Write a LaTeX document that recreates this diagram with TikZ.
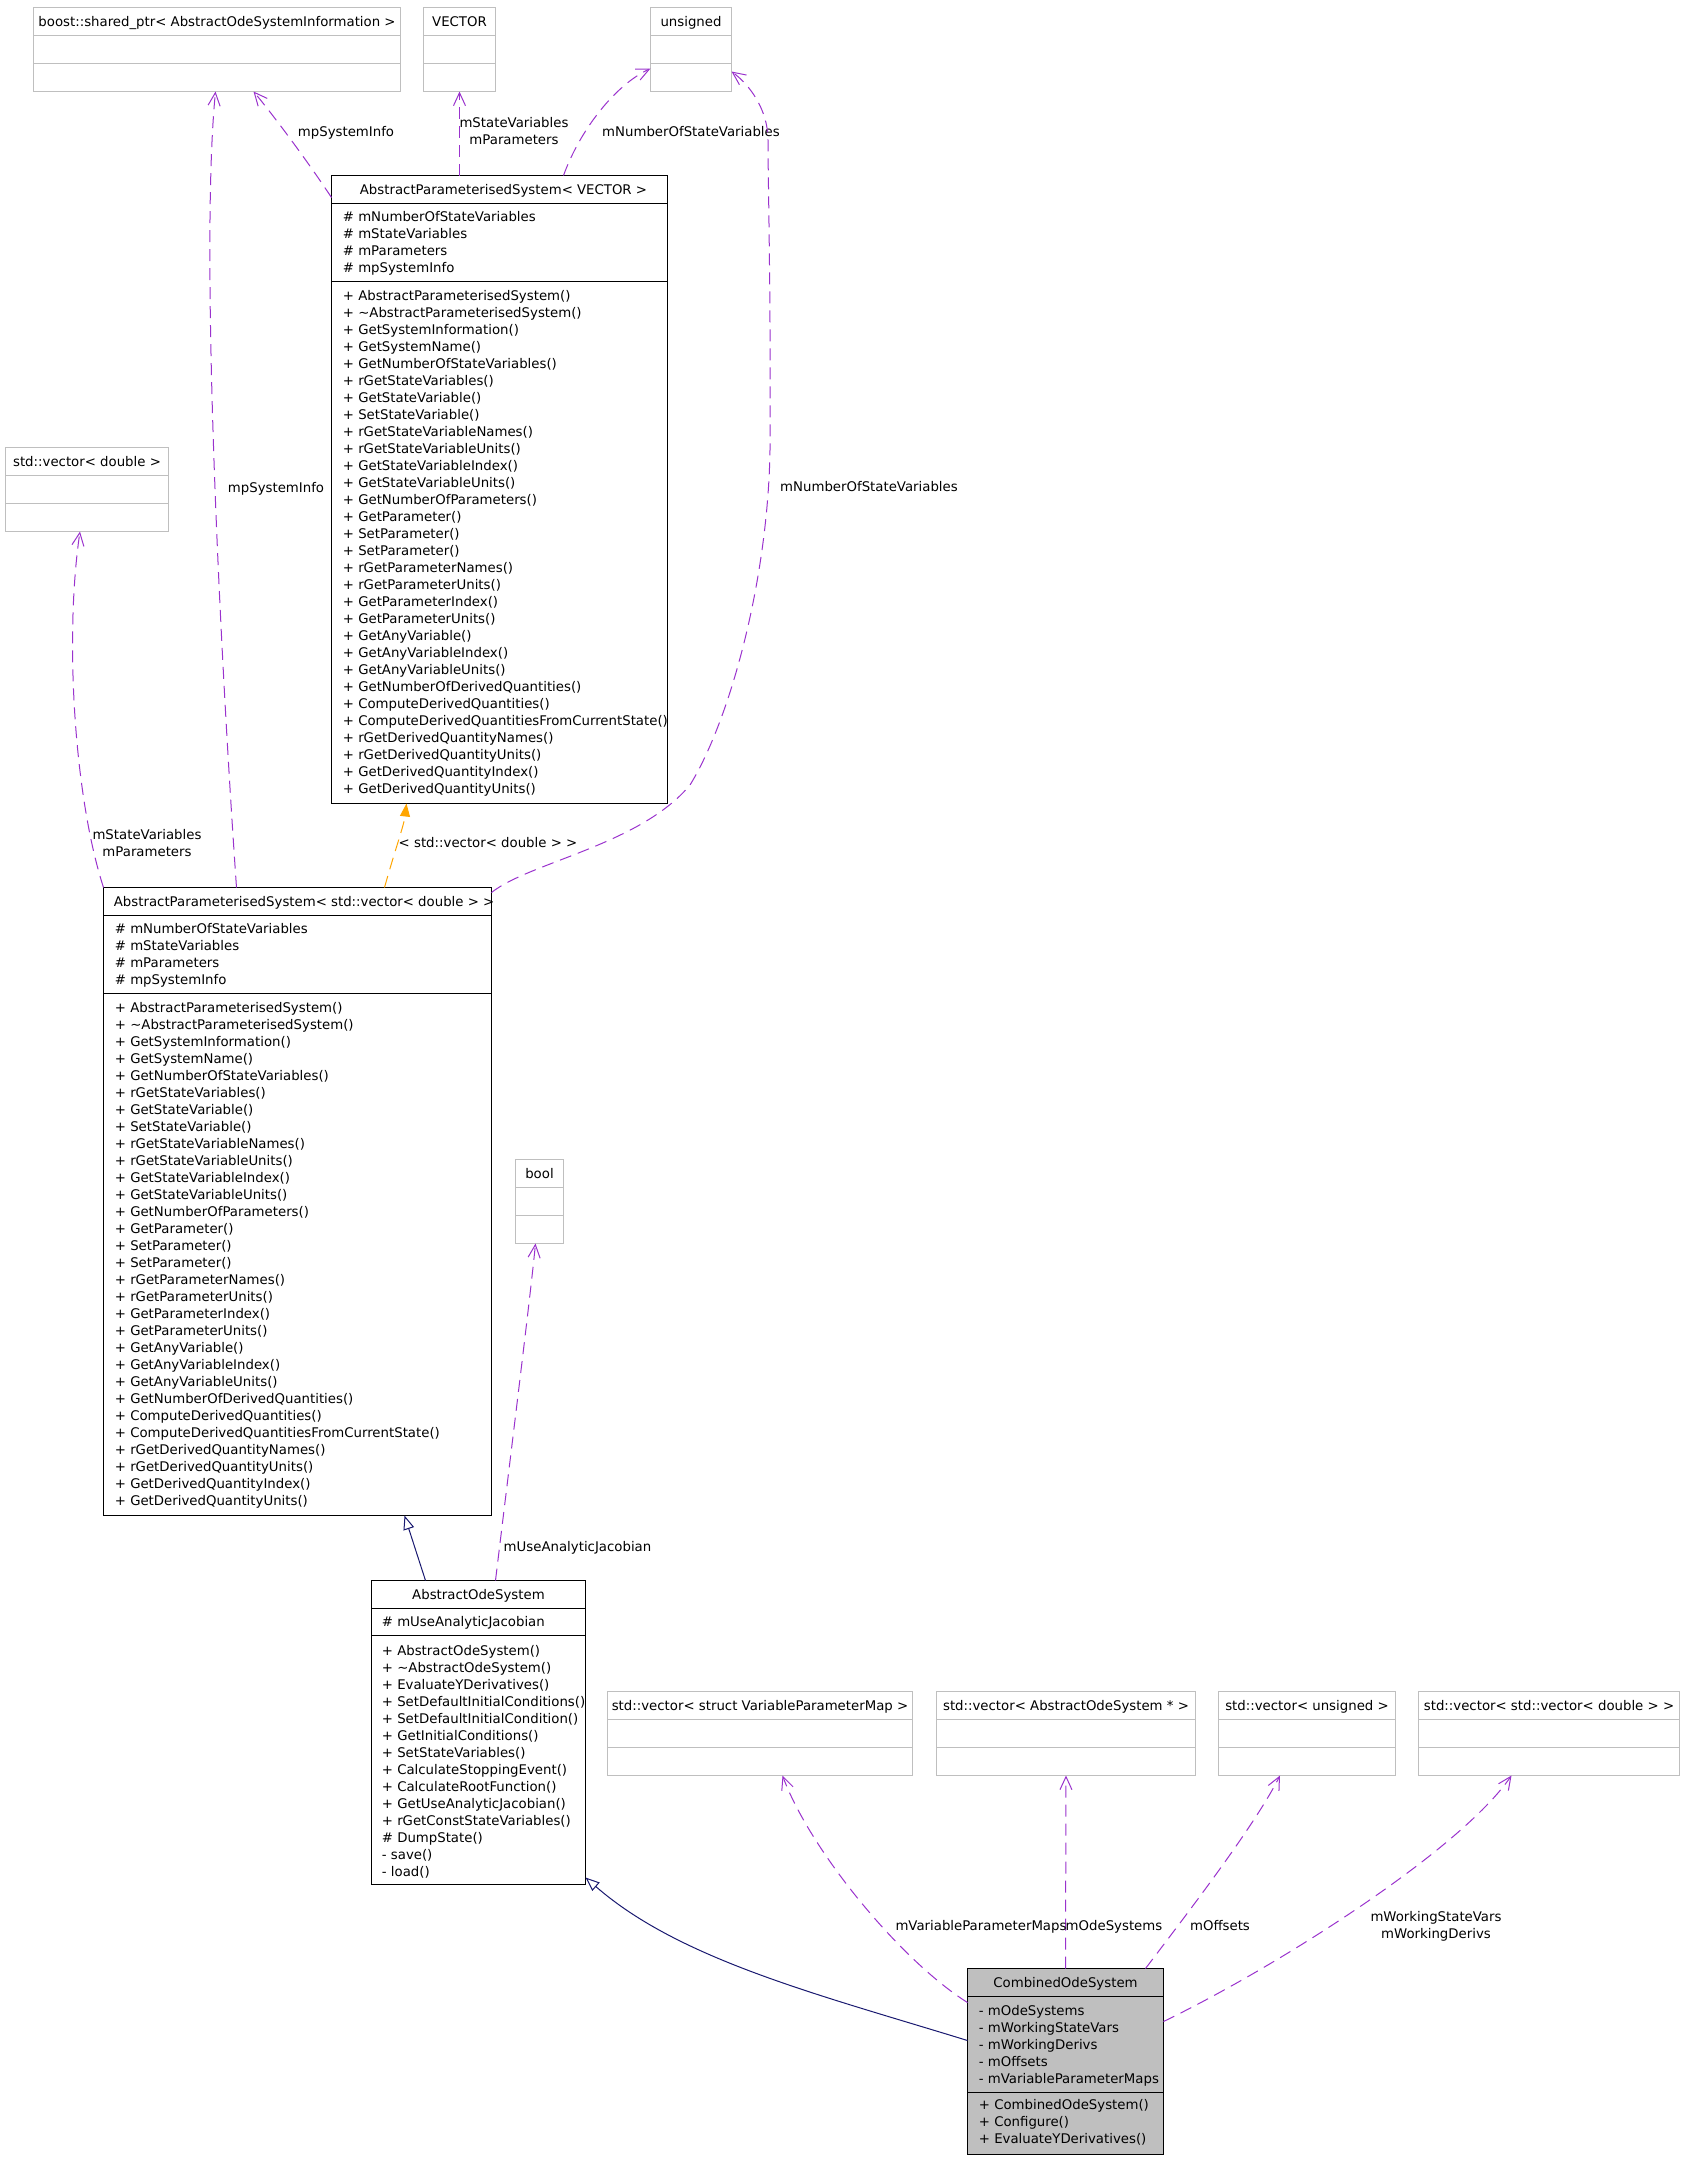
\documentclass[tikz,border=0pt]{standalone}
\usepackage{fontspec}
\setmainfont{DejaVu Sans}
\usetikzlibrary{arrows.meta,calc}
\definecolor{usecol}{HTML}{9A32CD}
\definecolor{inhcol}{HTML}{191970}
\definecolor{tplcol}{HTML}{FFA500}
\definecolor{extcol}{HTML}{BFBFBF}
\definecolor{fillcol}{HTML}{BFBFBF}
\newcommand\umlfont{\fontsize{6.65pt}{8.5pt}\selectfont}
\newcommand\clsrule[2]{\draw[black,line width=0.5pt] ($(#1.north west)+(0,#2)$) -- ($(#1.north east)+(0,#2)$);}
\newcommand\extrule[1]{\draw[extcol,line width=0.5pt] ($(#1.north west)+(0,28)$) -- ($(#1.north east)+(0,28)$) ($(#1.north west)+(0,56)$) -- ($(#1.north east)+(0,56)$);}
\begin{document}
\begin{tikzpicture}[x=0.5pt,y=-0.5pt,
  box/.style 2 args={draw=black, line width=0.5pt, inner sep=0pt, outer sep=0pt, anchor=north west, minimum width={#1*0.5pt}, minimum height={#2*0.5pt}},
  extbox/.style 2 args={box={#1}{#2}, draw=extcol},
  txt/.style={inner sep=0pt, font=\umlfont, anchor=base west},
  ttl/.style={inner sep=0pt, font=\umlfont, anchor=base},
  lbl/.style={inner sep=0pt, font=\umlfont, align=center},
  uses/.style={draw=usecol, line width=0.5pt, dash pattern=on 6pt off 3.5pt, -{Straight Barb[length=6.5pt,width=6pt]}},
  inh/.style={draw=inhcol, line width=0.5pt, -{Triangle[length=7pt,width=5.5pt,fill=white]}},
  tpl/.style={draw=tplcol, line width=0.5pt, dash pattern=on 6pt off 3.5pt, -{Triangle[length=6.5pt,width=5pt]}}
]
\useasboundingbox (0,0) rectangle (1683,2160);

% ---------- external types ----------
\node[extbox={367}{84}] (boost) at (33.5,7.5) {};
\extrule{boost}
\node[ttl] (boostT) at ($(boost.north)+(0,19)$) {boost::shared\_ptr< AbstractOdeSystemInformation >};

\node[extbox={72}{84}] (vec) at (423.5,7.5) {};
\extrule{vec}
\node[ttl] (vecT) at ($(vec.north)+(0,19)$) {VECTOR};

\node[extbox={81}{84}] (uns) at (650.5,7.5) {};
\extrule{uns}
\node[ttl] (unsT) at ($(uns.north)+(0,19)$) {unsigned};

\node[extbox={163}{84}] (vd) at (5.5,447.5) {};
\extrule{vd}
\node[ttl] (vdT) at ($(vd.north)+(0,19)$) {std::vector< double >};

\node[extbox={48}{84}] (bool) at (515.5,1159.5) {};
\extrule{bool}
\node[ttl] (boolT) at ($(bool.north)+(0,19)$) {bool};

\node[extbox={305}{84}] (vvpm) at (607.5,1691.5) {};
\extrule{vvpm}
\node[ttl] (vvpmT) at ($(vvpm.north)+(0,19)$) {std::vector< struct VariableParameterMap >};

\node[extbox={259}{84}] (vaos) at (936.5,1691.5) {};
\extrule{vaos}
\node[ttl] (vaosT) at ($(vaos.north)+(0,19)$) {std::vector< AbstractOdeSystem * >};

\node[extbox={177}{84}] (vuns) at (1218.5,1691.5) {};
\extrule{vuns}
\node[ttl] (vunsT) at ($(vuns.north)+(0,19)$) {std::vector< unsigned >};

\node[extbox={261}{84}] (vvvd) at (1418.5,1691.5) {};
\extrule{vvvd}
\node[ttl] (vvvdT) at ($(vvvd.north)+(0,19)$) {std::vector< std::vector< double > >};

% ---------- AbstractParameterisedSystem< VECTOR > ----------
\node[box={336}{628}] (apsv) at (331.5,175.5) {};
\clsrule{apsv}{28}
\clsrule{apsv}{106}
\node[ttl] (apsvT) at ($(apsv.north)+(4,18.5)$) {AbstractParameterisedSystem< VECTOR >};
\foreach \t [count=\i from 0] in {{\# mNumberOfStateVariables},{\# mStateVariables},{\# mParameters},{\# mpSystemInfo}}
  \node[txt] (apsvA\i) at ($(apsv.north west)+(11,{46+17*\i})$) {\t};
\foreach \t [count=\i from 0] in {
 {+ AbstractParameterisedSystem()},{+ \textasciitilde AbstractParameterisedSystem()},{+ GetSystemInformation()},
 {+ GetSystemName()},{+ GetNumberOfStateVariables()},{+ rGetStateVariables()},{+ GetStateVariable()},
 {+ SetStateVariable()},{+ rGetStateVariableNames()},{+ rGetStateVariableUnits()},{+ GetStateVariableIndex()},
 {+ GetStateVariableUnits()},{+ GetNumberOfParameters()},{+ GetParameter()},{+ SetParameter()},{+ SetParameter()},
 {+ rGetParameterNames()},{+ rGetParameterUnits()},{+ GetParameterIndex()},{+ GetParameterUnits()},
 {+ GetAnyVariable()},{+ GetAnyVariableIndex()},{+ GetAnyVariableUnits()},{+ GetNumberOfDerivedQuantities()},
 {+ ComputeDerivedQuantities()},{+ ComputeDerivedQuantitiesFromCurrentState()},{+ rGetDerivedQuantityNames()},
 {+ rGetDerivedQuantityUnits()},{+ GetDerivedQuantityIndex()},{+ GetDerivedQuantityUnits()}}
  \node[txt] (apsvM\i) at ($(apsv.north west)+(11,{125+17*\i})$) {\t};

% ---------- AbstractParameterisedSystem< std::vector< double > > ----------
\node[box={388}{628}] (apsd) at (103.5,887.5) {};
\clsrule{apsd}{28}
\clsrule{apsd}{106}
\node[txt] (apsdT) at ($(apsd.north west)+(10,18.5)$) {AbstractParameterisedSystem< std::vector< double > >};
\foreach \t [count=\i from 0] in {{\# mNumberOfStateVariables},{\# mStateVariables},{\# mParameters},{\# mpSystemInfo}}
  \node[txt] (apsdA\i) at ($(apsd.north west)+(11,{46+17*\i})$) {\t};
\foreach \t [count=\i from 0] in {
 {+ AbstractParameterisedSystem()},{+ \textasciitilde AbstractParameterisedSystem()},{+ GetSystemInformation()},
 {+ GetSystemName()},{+ GetNumberOfStateVariables()},{+ rGetStateVariables()},{+ GetStateVariable()},
 {+ SetStateVariable()},{+ rGetStateVariableNames()},{+ rGetStateVariableUnits()},{+ GetStateVariableIndex()},
 {+ GetStateVariableUnits()},{+ GetNumberOfParameters()},{+ GetParameter()},{+ SetParameter()},{+ SetParameter()},
 {+ rGetParameterNames()},{+ rGetParameterUnits()},{+ GetParameterIndex()},{+ GetParameterUnits()},
 {+ GetAnyVariable()},{+ GetAnyVariableIndex()},{+ GetAnyVariableUnits()},{+ GetNumberOfDerivedQuantities()},
 {+ ComputeDerivedQuantities()},{+ ComputeDerivedQuantitiesFromCurrentState()},{+ rGetDerivedQuantityNames()},
 {+ rGetDerivedQuantityUnits()},{+ GetDerivedQuantityIndex()},{+ GetDerivedQuantityUnits()}}
  \node[txt] (apsdM\i) at ($(apsd.north west)+(11,{125+17*\i})$) {\t};

% ---------- AbstractOdeSystem ----------
\node[box={214}{304}] (aos) at (371.5,1580.5) {};
\clsrule{aos}{28}
\clsrule{aos}{55}
\node[ttl] (aosT) at ($(aos.north)+(0,18.5)$) {AbstractOdeSystem};
\node[txt] (aosA0) at ($(aos.north west)+(10,46.2)$) {\# mUseAnalyticJacobian};
\foreach \t [count=\i from 0] in {
 {+ AbstractOdeSystem()},{+ \textasciitilde AbstractOdeSystem()},{+ EvaluateYDerivatives()},
 {+ SetDefaultInitialConditions()},{+ SetDefaultInitialCondition()},{+ GetInitialConditions()},
 {+ SetStateVariables()},{+ CalculateStoppingEvent()},{+ CalculateRootFunction()},
 {+ GetUseAnalyticJacobian()},{+ rGetConstStateVariables()},{\# DumpState()},{- save()},{- load()}}
  \node[txt] (aosM\i) at ($(aos.north west)+(10,{74.5+17*\i})$) {\t};

% ---------- CombinedOdeSystem ----------
\node[box={196}{186}, fill=fillcol] (cos) at (967.5,1968.5) {};
\clsrule{cos}{28}
\clsrule{cos}{124}
\node[ttl] (cosT) at ($(cos.north)+(0,19)$) {CombinedOdeSystem};
\foreach \t [count=\i from 0] in {{- mOdeSystems},{- mWorkingStateVars},{- mWorkingDerivs},{- mOffsets},{- mVariableParameterMaps}}
  \node[txt] (cosA\i) at ($(cos.north west)+(11,{46.7+17*\i})$) {\t};
\foreach \t [count=\i from 0] in {{+ CombinedOdeSystem()},{+ Configure()},{+ EvaluateYDerivatives()}}
  \node[txt] (cosM\i) at ($(cos.north west)+(11,{141.3+17*\i})$) {\t};

% ---------- connectors ----------
% AbstractParameterisedSystem<VECTOR> uses
\draw[uses] ($(apsv.north west)+(0,22)$) .. controls (300,150) and (265,105) .. ($(boost.south west)+(220,0)$);
\draw[uses] ($(apsv.north west)+(128,0)$) -- (vec.south);
\draw[uses] ($(apsv.north west)+(232,0)$) .. controls (580,130) and (615,85) .. ($(uns.south west)+(0,-23)$);
\node[lbl, anchor=base] (l1) at (346,136) {mpSystemInfo};
\node[lbl] (l2) at (514,131.5) {mStateVariables\\mParameters};
\node[lbl, anchor=base] (l3) at (691,136) {mNumberOfStateVariables};

% AbstractParameterisedSystem<std::vector<double>> uses
\draw[uses] ($(apsd.north west)+(133,0)$) .. controls (220,650) and (200,250) .. ($(boost.south west)+(182,0)$);
\draw[uses] (apsd.north west) .. controls (75,800) and (64,640) .. ($(vd.south west)+(74.5,0)$);
\draw[uses] ($(apsd.north east)+(0,5)$) .. controls (530,862) and (640,845) .. (690,785)
   .. controls (730,720) and (768,580) .. (770,450)
   .. controls (771,300) and (768,180) .. (768,140)
   .. controls (768,110) and (750,85) .. ($(uns.south east)+(0,-20)$);
\node[lbl, anchor=base] (l4) at (276,492) {mpSystemInfo};
\node[lbl] (l5) at (147,843) {mStateVariables\\mParameters};
\node[lbl, anchor=base] (l6) at (869,491) {mNumberOfStateVariables};

% template instantiation
\draw[tpl] ($(apsd.north west)+(281,0)$) .. controls (395,850) and (404,825) .. ($(apsv.south west)+(75,0)$);
\node[lbl, anchor=base] (l7) at (488,847) {< std::vector< double > >};

% AbstractOdeSystem
\draw[inh] ($(aos.north west)+(54,0)$) -- ($(apsd.south west)+(301,0)$);
\draw[uses] ($(aos.north west)+(124,0)$) .. controls (510,1460) and (530,1300) .. ($(bool.south west)+(20,0)$);
\node[lbl, anchor=base] (l8) at (577.5,1551) {mUseAnalyticJacobian};

% CombinedOdeSystem
\draw[inh] ($(cos.north west)+(0,72)$) .. controls (820,1995) and (680,1960) .. ($(aos.south east)+(0,-7)$);
\draw[uses] ($(cos.north west)+(0,34)$) .. controls (900,1960) and (810,1850) .. ($(vvpm.south west)+(175,0)$);
\draw[uses] (cos.north) -- (vaos.south);
\draw[uses] ($(cos.north east)+(-18,0)$) .. controls (1190,1910) and (1255,1825) .. ($(vuns.south west)+(61.5,0)$);
\draw[uses] ($(cos.north east)+(0,53)$) .. controls (1280,1965) and (1460,1850) .. ($(vvvd.south west)+(93,0)$);
\node[lbl, anchor=base] (l9) at (981,1930.7) {mVariableParameterMaps};
\node[lbl, anchor=base] (l10) at (1114,1930.7) {mOdeSystems};
\node[lbl, anchor=base] (l11) at (1220,1930.7) {mOffsets};
\node[lbl] (l12) at (1436,1926.4) {mWorkingStateVars\\mWorkingDerivs};
\end{tikzpicture}
\end{document}
